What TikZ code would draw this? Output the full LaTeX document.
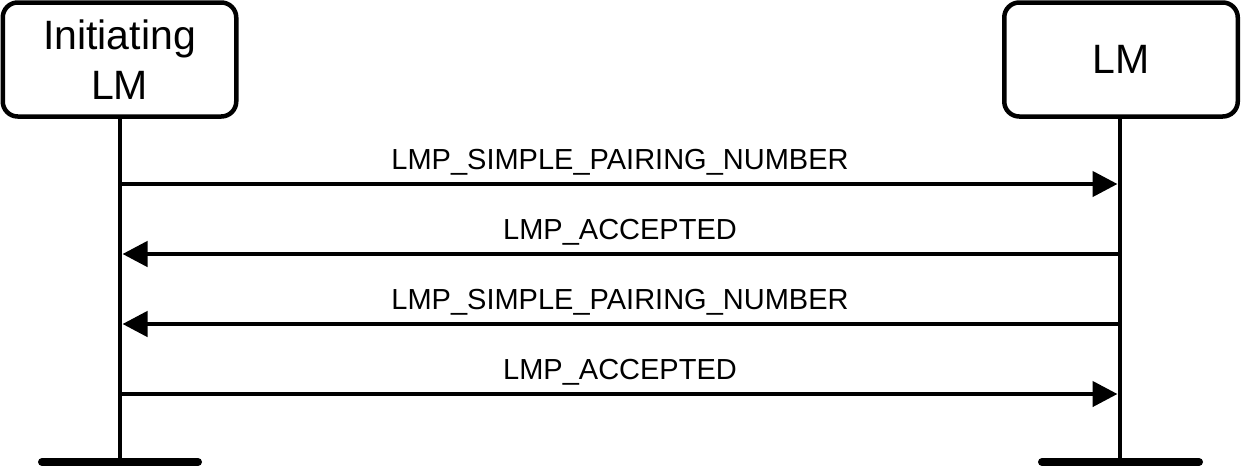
\documentclass[tikz,border=0pt]{standalone}
\usepackage{fontspec}
\setmainfont{Liberation Sans}
\usetikzlibrary{arrows.meta}
\begin{document}
\begin{tikzpicture}[x=1pt,y=-1pt,
  entity/.style={draw,line width=4.5pt,rounded corners=15pt,minimum width=233.5pt,minimum height=114pt,inner sep=0pt,align=center,font=\fontsize{41}{50}\selectfont},
  lifeline/.style={line width=4.5pt},
  endbar/.style={line width=8pt,line cap=round},
  msg/.style={line width=4.5pt,-{Triangle[length=25pt,width=25pt]}},
  lbl/.style={anchor=base,inner sep=0pt,font=\fontsize{29}{35}\selectfont}]
\useasboundingbox (0,0) rectangle (1241,467);
\node[entity] (A) at (119.5,59.5) {Initiating\\LM};
\node[entity] (B) at (1121,59.5) {LM};
\coordinate (Aend) at (120,462);
\coordinate (Bend) at (1120,462);
\coordinate (Aendl) at (42,462);
\coordinate (Aendr) at (198,462);
\coordinate (Bendl) at (1042,462);
\coordinate (Bendr) at (1199,462);
\draw[lifeline] (A.south -| Aend) -- (Aend);
\draw[lifeline] (B.south -| Bend) -- (Bend);
\draw[endbar] (Aendl) -- (Aendr);
\draw[endbar] (Bendl) -- (Bendr);
% message anchors on lifelines
\foreach \y/\n in {184/1,254/2,324/3,394/4}{
  \coordinate (a\n) at (120,\y);
  \coordinate (al\n) at (122.5,\y);
  \coordinate (b\n) at (1120,\y);
  \coordinate (br\n) at (1117.5,\y);
}
\draw[msg] (a1) -- (br1);
\draw[msg] (b2) -- (al2);
\draw[msg] (b3) -- (al3);
\draw[msg] (a4) -- (br4);
\node[lbl] (l1) at (620,169) {LMP\_SIMPLE\_PAIRING\_NUMBER};
\node[lbl] (l2) at (620,239) {LMP\_ACCEPTED};
\node[lbl] (l3) at (620,309) {LMP\_SIMPLE\_PAIRING\_NUMBER};
\node[lbl] (l4) at (620,379) {LMP\_ACCEPTED};
\end{tikzpicture}
\end{document}
